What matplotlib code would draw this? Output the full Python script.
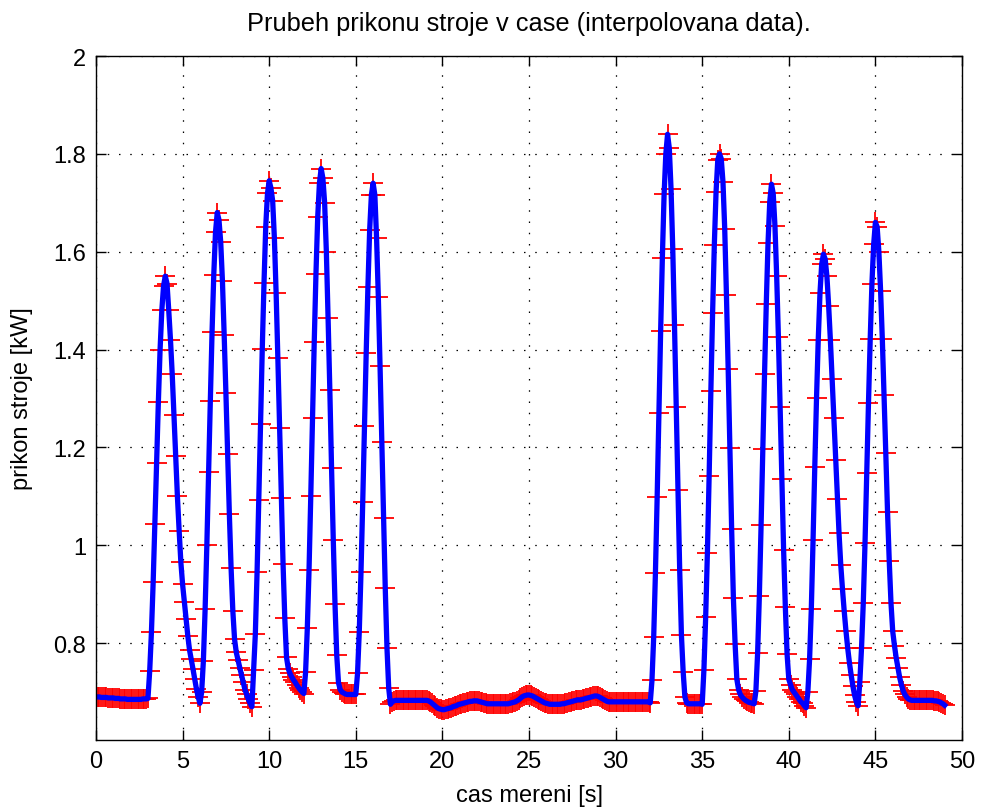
import numpy as np
import matplotlib
matplotlib.use("Agg")
import matplotlib.pyplot as plt

plt.rcParams['font.family'] = ['Liberation Sans', 'DejaVu Sans']

# sampling step 0.1 s, from 0.0 to 49.0 s
dt = 0.1
power_kw = [
    0.690, 0.690, 0.690, 0.689, 0.689, 0.689, 0.689, 0.688, 0.688, 0.688,  # 0
    0.688, 0.687, 0.687, 0.687, 0.686, 0.686, 0.686, 0.686, 0.685, 0.685,  # 1
    0.685, 0.685, 0.685, 0.685, 0.685, 0.685, 0.685, 0.686, 0.686, 0.686,  # 2
    0.687, 0.743, 0.822, 0.924, 1.043, 1.169, 1.292, 1.400, 1.480, 1.530,  # 3
    1.550, 1.535, 1.480, 1.420, 1.350, 1.267, 1.182, 1.100, 1.030, 0.965,  # 4
    0.920, 0.885, 0.850, 0.815, 0.786, 0.767, 0.747, 0.727, 0.706, 0.690,  # 5
    0.677, 0.700, 0.764, 0.869, 1.000, 1.149, 1.294, 1.435, 1.553, 1.640,  # 6
    1.680, 1.665, 1.620, 1.540, 1.430, 1.312, 1.186, 1.063, 0.953, 0.866,  # 7
    0.808, 0.781, 0.765, 0.750, 0.735, 0.720, 0.705, 0.695, 0.685, 0.677,  # 8
    0.670, 0.745, 0.819, 0.945, 1.092, 1.247, 1.402, 1.536, 1.651, 1.719,  # 9
    1.745, 1.730, 1.704, 1.627, 1.515, 1.382, 1.239, 1.097, 0.962, 0.851,  # 10
    0.771, 0.748, 0.738, 0.731, 0.725, 0.720, 0.714, 0.709, 0.704, 0.700,  # 11
    0.697, 0.740, 0.830, 0.950, 1.100, 1.260, 1.415, 1.555, 1.670, 1.740,  # 12
    1.770, 1.750, 1.700, 1.600, 1.464, 1.318, 1.158, 1.010, 0.879, 0.775,  # 13
    0.719, 0.705, 0.700, 0.698, 0.696, 0.695, 0.695, 0.695, 0.695, 0.695,  # 14
    0.695, 0.738, 0.823, 0.945, 1.088, 1.244, 1.393, 1.528, 1.644, 1.716,  # 15
    1.740, 1.716, 1.627, 1.508, 1.366, 1.212, 1.056, 0.913, 0.790, 0.708,  # 16
    0.675, 0.680, 0.682, 0.683, 0.683, 0.683, 0.683, 0.683, 0.683, 0.683,  # 17
    0.683, 0.683, 0.683, 0.683, 0.683, 0.683, 0.683, 0.683, 0.683, 0.683,  # 18
    0.683, 0.683, 0.682, 0.680, 0.677, 0.674, 0.671, 0.668, 0.666, 0.665,  # 19
    0.664, 0.664, 0.665, 0.666, 0.667, 0.668, 0.670, 0.671, 0.672, 0.674,  # 20
    0.675, 0.676, 0.677, 0.678, 0.679, 0.680, 0.681, 0.681, 0.682, 0.682,  # 21
    0.682, 0.681, 0.680, 0.679, 0.678, 0.677, 0.676, 0.676, 0.676, 0.676,  # 22
    0.676, 0.676, 0.676, 0.676, 0.676, 0.676, 0.676, 0.676, 0.676, 0.677,  # 23
    0.678, 0.679, 0.680, 0.682, 0.684, 0.687, 0.690, 0.692, 0.693, 0.694,  # 24
    0.694, 0.693, 0.692, 0.690, 0.688, 0.686, 0.684, 0.682, 0.680, 0.678,  # 25
    0.677, 0.676, 0.675, 0.675, 0.675, 0.675, 0.675, 0.675, 0.675, 0.676,  # 26
    0.676, 0.677, 0.678, 0.679, 0.680, 0.681, 0.682, 0.683, 0.684, 0.684,  # 27
    0.684, 0.685, 0.686, 0.687, 0.688, 0.689, 0.690, 0.691, 0.692, 0.692,  # 28
    0.691, 0.689, 0.687, 0.685, 0.683, 0.681, 0.680, 0.680, 0.680, 0.680,  # 29
    0.680, 0.680, 0.680, 0.680, 0.680, 0.680, 0.680, 0.680, 0.680, 0.680,  # 30
    0.680, 0.680, 0.680, 0.680, 0.680, 0.680, 0.680, 0.680, 0.680, 0.680,  # 31
    0.678, 0.724, 0.813, 0.944, 1.099, 1.271, 1.437, 1.588, 1.717, 1.800,  # 32
    1.840, 1.812, 1.729, 1.606, 1.451, 1.283, 1.112, 0.950, 0.817, 0.742,  # 33
    0.690, 0.678, 0.676, 0.676, 0.676, 0.676, 0.676, 0.676, 0.676, 0.676,  # 34
    0.675, 0.746, 0.853, 0.985, 1.141, 1.315, 1.474, 1.614, 1.722, 1.788,  # 35
    1.800, 1.790, 1.742, 1.647, 1.511, 1.360, 1.198, 1.033, 0.893, 0.798,  # 36
    0.726, 0.705, 0.695, 0.690, 0.686, 0.683, 0.681, 0.679, 0.678, 0.677,  # 37
    0.676, 0.702, 0.780, 0.897, 1.041, 1.197, 1.351, 1.494, 1.617, 1.702,  # 38
    1.738, 1.719, 1.653, 1.550, 1.425, 1.283, 1.135, 0.991, 0.874, 0.778,  # 39
    0.726, 0.715, 0.705, 0.700, 0.695, 0.690, 0.685, 0.680, 0.677, 0.672,  # 40
    0.668, 0.700, 0.767, 0.870, 1.010, 1.160, 1.300, 1.420, 1.515, 1.575,  # 41
    1.595, 1.585, 1.550, 1.490, 1.420, 1.340, 1.260, 1.175, 1.095, 1.025,  # 42
    0.960, 0.910, 0.865, 0.825, 0.790, 0.760, 0.735, 0.712, 0.693, 0.680,  # 43
    0.672, 0.720, 0.791, 0.882, 1.004, 1.147, 1.290, 1.421, 1.535, 1.615,  # 44
    1.660, 1.651, 1.600, 1.520, 1.421, 1.307, 1.188, 1.069, 0.967, 0.882,  # 45
    0.824, 0.795, 0.770, 0.750, 0.730, 0.715, 0.703, 0.695, 0.690, 0.686,  # 46
    0.684, 0.683, 0.683, 0.683, 0.683, 0.683, 0.683, 0.683, 0.683, 0.683,  # 47
    0.683, 0.683, 0.683, 0.683, 0.682, 0.682, 0.681, 0.680, 0.678, 0.676,  # 48
    0.673,                                                                  # 49
]
time_s = np.round(np.arange(len(power_kw)) * dt, 1)

x_ticks = [0, 5, 10, 15, 20, 25, 30, 35, 40, 45, 50]
y_ticks = [0.8, 1.0, 1.2, 1.4, 1.6, 1.8, 2.0]
y_tick_labels = ['0.8', '1', '1.2', '1.4', '1.6', '1.8', '2']

title_text = 'Prubeh prikonu stroje v case (interpolovana data).'
x_label = 'cas mereni [s]'
y_label = 'prikon stroje [kW]'

W, H = 981, 812
fig = plt.figure(figsize=(W / 100, H / 100), dpi=100)
fig.patch.set_facecolor('white')
ax = fig.add_axes([96 / W, 1 - 741 / H, 866 / W, 684 / H])

ax.plot(time_s, power_kw, linestyle='none', marker='+', color='red',
        markersize=14, markeredgewidth=1.3, zorder=2)
ax.plot(time_s, power_kw, '-', color='blue', linewidth=3.8, zorder=3)

ax.set_xlim(0, 50)
ax.set_ylim(0.602, 2.0)
ax.set_xticks(x_ticks)
ax.set_xticklabels([str(v) for v in x_ticks])
ax.set_yticks(y_ticks)
ax.set_yticklabels(y_tick_labels)

fs = 17
ax.tick_params(direction='in', length=7, width=1.0, top=True, right=True,
               labelsize=fs, pad=7, colors='black')
ax.grid(True, color='black', linestyle=(0, (1.2, 7.8)), linewidth=0.9)
for s in ax.spines.values():
    s.set_linewidth(1.0)
    s.set_color('black')
    s.set_zorder(4)

ax.set_title(title_text, fontsize=18.3, pad=19)
ax.set_xlabel(x_label, fontsize=fs, labelpad=9)
ax.set_ylabel(y_label, fontsize=fs, labelpad=15)

fig.savefig('out.png', dpi=100, facecolor='white')
